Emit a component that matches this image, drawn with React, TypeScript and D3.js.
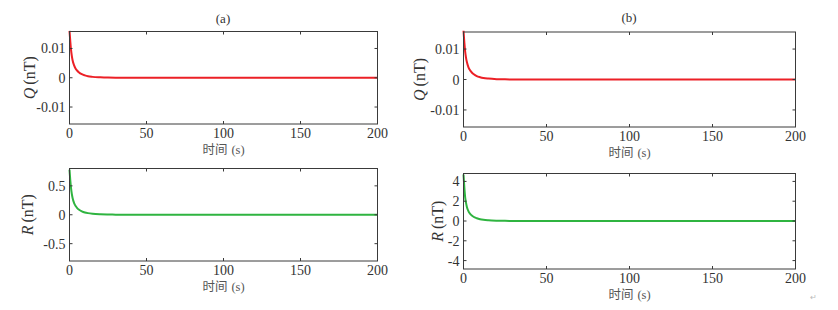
import { useEffect, useRef } from "react";
import * as d3 from "d3";

// time samples (s)
const times = [0, 0.5, 1, 1.5, 2, 3, 4, 5, 6, 8, 10, 12, 15, 20, 25, 30, 40, 50, 100, 150, 200];

// Q (nT), panels a and b
const qA = [0.016, 0.0125, 0.0095, 0.0075, 0.006, 0.0042, 0.0031, 0.0024, 0.0019, 0.0012, 0.0008, 0.0005, 0.0003, 0.00015, 0.00006, 0.00002, 0, 0, 0, 0, 0];
const qB = [0.016, 0.0122, 0.0092, 0.0072, 0.0058, 0.004, 0.003, 0.0023, 0.0018, 0.0011, 0.00075, 0.0005, 0.0003, 0.00012, 0.00005, 0.00002, 0, 0, 0, 0, 0];
// R (nT), panels a and b
const rA = [0.78, 0.6, 0.46, 0.36, 0.29, 0.2, 0.15, 0.115, 0.09, 0.06, 0.04, 0.028, 0.017, 0.008, 0.004, 0.002, 0, 0, 0, 0, 0];
const rB = [4.7, 3.4, 2.4, 1.85, 1.45, 0.98, 0.72, 0.55, 0.43, 0.28, 0.18, 0.12, 0.07, 0.03, 0.015, 0.007, 0, 0, 0, 0, 0];

const xTicks = [0, 50, 100, 150, 200];
const qTicks = [-0.01, 0, 0.01];
const qTickLabels = ["-0.01", "0", "0.01"];
const rATicks = [-0.5, 0, 0.5];
const rATickLabels = ["-0.5", "0", "0.5"];
const rBTicks = [-4, -2, 0, 2, 4];
const rBTickLabels = ["-4", "-2", "0", "2", "4"];

const serif = "'Liberation Serif', 'Times New Roman', serif";
const cjk = "'Noto Sans CJK SC', sans-serif";
const axisColor = "#3a3a3a";
const red = "#ec2026";
const green = "#2fb440";

type PanelProps = {
  left: number;
  right: number;
  top: number;
  bottom: number;
  yDomain: [number, number];
  yTicks: number[];
  yTickLabels: string[];
  values: number[];
  color: string;
  varName: string;
  labelX: number;
};

const Panel = ({ left, right, top, bottom, yDomain, yTicks, yTickLabels, values, color, varName, labelX }: PanelProps) => {
  const lineRef = useRef<SVGPathElement>(null);
  const xScale = d3.scaleLinear().domain([0, 200]).range([left, right]);
  const yScale = d3.scaleLinear().domain(yDomain).range([bottom, top]);
  const line = d3
    .line<number>()
    .x((_, i) => xScale(times[i]))
    .y((d) => yScale(d))
    .curve(d3.curveMonotoneX);

  useEffect(() => {
    d3.select(lineRef.current).attr("d", line(values));
  }, [values]);

  const tk = 3;
  return (
    <g>
      <path ref={lineRef} fill="none" stroke={color} strokeWidth={2} />
      <rect x={left} y={top} width={right - left} height={bottom - top} fill="none" stroke={axisColor} strokeWidth={1} />
      {xTicks.map((t) => (
        <g key={t}>
          <line x1={xScale(t)} x2={xScale(t)} y1={bottom} y2={bottom - tk} stroke={axisColor} />
          <line x1={xScale(t)} x2={xScale(t)} y1={top} y2={top + tk} stroke={axisColor} />
          <text x={xScale(t)} y={bottom + 14} textAnchor="middle" fontFamily={serif} fontSize={14} fill="#333">
            {t}
          </text>
        </g>
      ))}
      {yTicks.map((t, i) => (
        <g key={t}>
          <line x1={left} x2={left + tk} y1={yScale(t)} y2={yScale(t)} stroke={axisColor} />
          <line x1={right} x2={right - tk} y1={yScale(t)} y2={yScale(t)} stroke={axisColor} />
          <text x={left - 4} y={yScale(t) + 5} textAnchor="end" fontFamily={serif} fontSize={14} fill="#333">
            {yTickLabels[i]}
          </text>
        </g>
      ))}
      <text x={(left + right) / 2} y={bottom + 30} textAnchor="middle" fontSize={12.5} fill="#555">
        <tspan fontFamily={cjk}>时间</tspan>
        <tspan fontFamily={serif} dx={4}>(s)</tspan>
      </text>
      <text
        transform={`translate(${labelX},${(top + bottom) / 2}) rotate(-90)`}
        textAnchor="middle"
        fontFamily={serif}
        fontSize={16}
        fill="#333"
      >
        <tspan fontStyle="italic">{varName}</tspan>
        <tspan dx={3}>(nT)</tspan>
      </text>
    </g>
  );
};

const App = () => {
  return (
    <div style={{ position: "absolute", left: 0, top: 0, width: 838, height: 310, background: "#fff" }}>
      <svg width={838} height={310} viewBox="0 0 838 310">
        <rect width={838} height={310} fill="#fff" />
        <text x={223} y={23} textAnchor="middle" fontFamily={serif} fontSize={13} fill="#333">(a)</text>
        <text x={629} y={22} textAnchor="middle" fontFamily={serif} fontSize={13} fill="#333">(b)</text>
        <Panel left={69.5} right={377.5} top={31.5} bottom={124} yDomain={[-0.0158, 0.0158]} yTicks={qTicks} yTickLabels={qTickLabels} values={qA} color={red} varName="Q" labelX={35} />
        <Panel left={463.5} right={795.5} top={32} bottom={127} yDomain={[-0.0156, 0.0156]} yTicks={qTicks} yTickLabels={qTickLabels} values={qB} color={red} varName="Q" labelX={425} />
        <Panel left={69.5} right={377.5} top={168.5} bottom={261} yDomain={[-0.8, 0.8]} yTicks={rATicks} yTickLabels={rATickLabels} values={rA} color={green} varName="R" labelX={33} />
        <Panel left={463.5} right={795.5} top={173.5} bottom={269} yDomain={[-4.85, 4.8]} yTicks={rBTicks} yTickLabels={rBTickLabels} values={rB} color={green} varName="R" labelX={443} />
        <text x={810} y={300} fontSize={8} fill="#bbb">↵</text>
      </svg>
    </div>
  );
};

export default App;
